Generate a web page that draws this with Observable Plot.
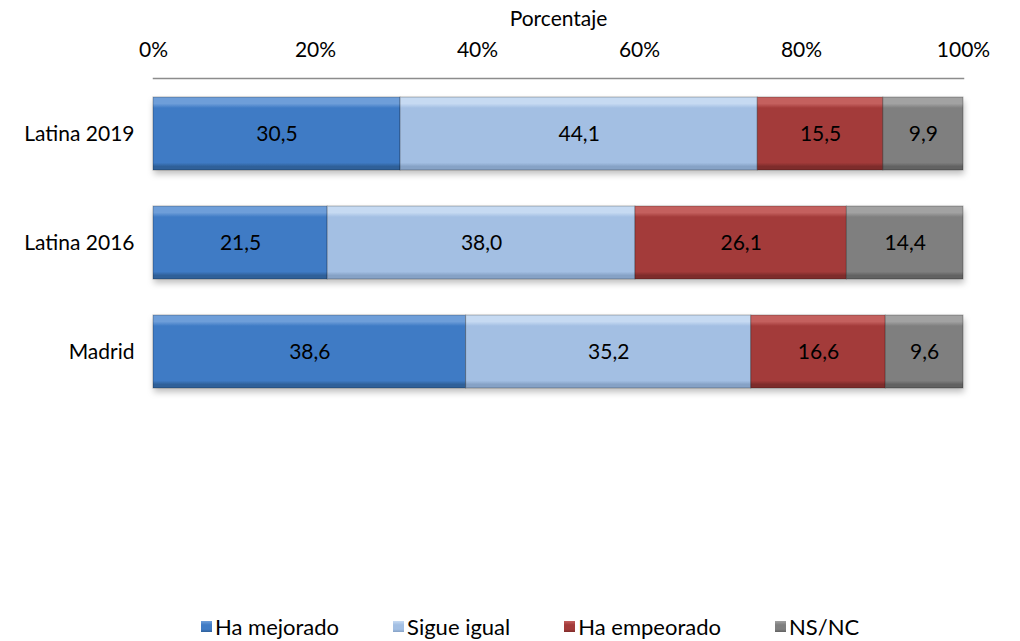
<!DOCTYPE html>
<html>
<head>
<meta charset="utf-8">
<script src="https://cdn.jsdelivr.net/npm/d3@7"></script>
<script src="https://cdn.jsdelivr.net/npm/@observablehq/plot@0.6"></script>
<style>
  body { margin: 0; background: #fff; font-family: Lato, "Open Sans", sans-serif; }
  #wrap { position: relative; width: 1020px; height: 641px; overflow: hidden; }
  #legend { position: absolute; left: 201px; top: 613px; display: flex; gap: 54px; font-size: 22px; color: #000; align-items: center; white-space: nowrap; }
  .item { display: flex; align-items: center; gap: 3px; }
  .sw { width: 11px; height: 11px; display: inline-block; }
</style>
</head>
<body>
<div id="wrap">
  <div id="chart"></div>
  <div id="legend"></div>
</div>
<script>
const categories = ["Latina 2019", "Latina 2016", "Madrid"];
const series = ["Ha mejorado", "Sigue igual", "Ha empeorado", "NS/NC"];
const haMejorado = [30.5, 21.5, 38.6];
const sigueIgual = [44.1, 38.0, 35.2];
const haEmpeorado = [15.5, 26.1, 16.6];
const nsnc = [9.9, 14.4, 9.6];
const xTicks = [0, 20, 40, 60, 80, 100];

const seriesValues = [haMejorado, sigueIgual, haEmpeorado, nsnc];
const baseColors = ["#3f7bc5", "#a3bfe3", "#a33b3a", "#7f7f7f"];
const lightColors = ["#6e9ed9", "#c6daf2", "#c4605e", "#a2a2a2"];
const darkColors = ["#2f6099", "#86a2c6", "#7e2c2b", "#626262"];

const data = [];
series.forEach((s, si) => {
  categories.forEach((c, ci) => {
    data.push({ category: c, series: s, value: seriesValues[si][ci] });
  });
});

const fmt = v => v.toFixed(1).replace(".", ",");

const chart = Plot.plot({
  width: 1020,
  height: 418,
  marginTop: 78,
  marginBottom: 10,
  marginLeft: 153,
  marginRight: 57,
  style: { fontFamily: "Lato, 'Open Sans', sans-serif", fontSize: "21px", color: "#000", background: "transparent" },
  x: { domain: [0, 100] },
  y: { domain: categories, paddingInner: 0.327, paddingOuter: 0.1636 },
  color: { domain: series, range: series.map((s, i) => `url(#grad${i})`) },
  marks: [
    Plot.frame({ anchor: "top", stroke: "#8c8c8c", strokeWidth: 1.5 }),
    Plot.barX(data, Plot.stackX({ x: "value", y: "category", fill: "series", order: series, stroke: "#00000044", strokeWidth: 1 })),
    Plot.text(data, Plot.stackX({ x: "value", y: "category", z: "series", order: series, text: d => fmt(d.value), fill: "#000", fontSize: 21 })),
    Plot.axisX({ anchor: "top", ticks: xTicks, tickSize: 0, tickPadding: 22, tickFormat: d => d + "%", label: "Porcentaje", labelAnchor: "center", labelArrow: "none", labelOffset: 67, fontSize: 21 }),
    Plot.axisY({ tickSize: 0, tickPadding: 19, label: null, fontSize: 21 })
  ]
});

// gradients for bevelled look
const svg = d3.select(chart);
const defs = svg.insert("defs", ":first-child");
baseColors.forEach((c, i) => {
  const g = defs.append("linearGradient").attr("id", `grad${i}`).attr("x1", 0).attr("y1", 0).attr("x2", 0).attr("y2", 1);
  g.append("stop").attr("offset", "0").attr("stop-color", lightColors[i]);
  g.append("stop").attr("offset", "0.09").attr("stop-color", lightColors[i]);
  g.append("stop").attr("offset", "0.15").attr("stop-color", c);
  g.append("stop").attr("offset", "0.9").attr("stop-color", c);
  g.append("stop").attr("offset", "0.95").attr("stop-color", darkColors[i]);
  g.append("stop").attr("offset", "1").attr("stop-color", darkColors[i]);
});
svg.selectAll("g[aria-label='bar']").style("filter", "drop-shadow(1px 4px 3px rgba(0,0,0,0.25))");

document.getElementById("chart").appendChild(chart);

const legend = d3.select("#legend");
series.forEach((s, i) => {
  const it = legend.append("div").attr("class", "item");
  it.append("span").attr("class", "sw")
    .style("background", `linear-gradient(${lightColors[i]} 0%, ${baseColors[i]} 35%, ${baseColors[i]} 75%, ${darkColors[i]} 100%)`);
  it.append("span").text(s);
});
</script>
</body>
</html>
